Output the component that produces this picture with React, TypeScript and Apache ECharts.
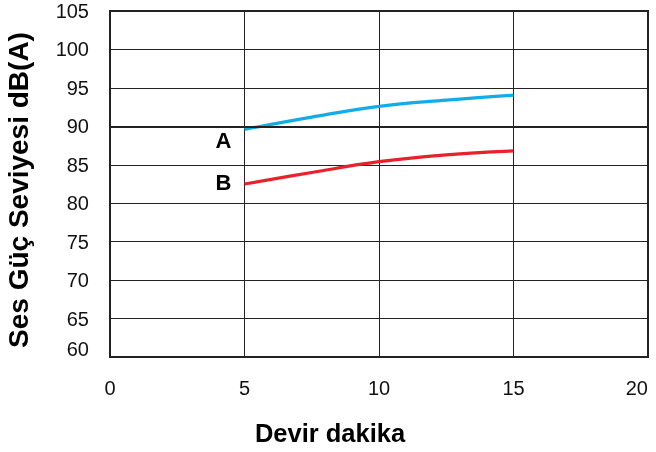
import React, { useEffect, useRef } from "react";
import * as echarts from "echarts";

const xValues = [5, 7.5, 10, 12.5, 15];
const seriesA = [89.6, 91.2, 92.6, 93.4, 94.05];
const seriesB = [82.5, 84.0, 85.4, 86.3, 86.8];
const seriesNames = ["A", "B"];
const xTitle = "Devir dakika";
const yTitle = "Ses Güç Seviyesi dB(A)";

const FONT = "'Liberation Sans', Arial, Helvetica, sans-serif";

export default function App() {
  const ref = useRef<HTMLDivElement>(null);
  useEffect(() => {
    if (!ref.current) return;
    const chart = echarts.init(ref.current, undefined, { renderer: "svg" });
    const mk = (vals: number[], name: string, color: string, offset: number[]) => ({
      type: "line",
      name,
      smooth: 0.4,
      symbol: "circle",
      symbolSize: 0,
      showSymbol: true,
      itemStyle: { color },
      lineStyle: { color, width: 3.2 },
      data: vals.map((v, i) =>
        i === 0
          ? {
              value: [xValues[i], v],
              label: {
                show: true,
                formatter: name,
                position: "left",
                offset,
                fontFamily: FONT,
                fontWeight: "bold",
                fontSize: 22,
                color: "#000",
              },
            }
          : { value: [xValues[i], v] }
      ),
    });
    chart.setOption({
      animation: false,
      grid: {
        left: 110,
        right: 8,
        top: 11,
        bottom: 95,
        show: true,
        borderColor: "#222",
        borderWidth: 2,
        backgroundColor: "#fff",
      },
      xAxis: {
        type: "value",
        min: 0,
        max: 20,
        interval: 5,
        axisLine: { show: true, lineStyle: { color: "#222", width: 2 } },
        axisTick: { show: false },
        splitLine: { show: true, lineStyle: { color: "#222", width: 1 } },
        axisLabel: {
          margin: 21,
          fontSize: 20,
          fontFamily: FONT,
          color: "#111",
          alignMaxLabel: "right",
        },
      },
      yAxis: {
        type: "value",
        min: 60,
        max: 105,
        interval: 5,
        axisLine: { show: true, lineStyle: { color: "#222", width: 2 } },
        axisTick: { show: false },
        splitLine: { show: true, lineStyle: { color: "#222", width: 1 } },
        axisLabel: {
          margin: 21,
          fontSize: 20,
          fontFamily: FONT,
          color: "#111",
          formatter: (v: number) => (v === 60 ? "{b|60}" : String(v)),
          rich: { b: { fontSize: 20, fontFamily: FONT, color: "#111", padding: [0, 0, 17, 0] } },
        },
      },
      series: [
        {
          type: "line",
          data: [],
          markLine: {
            silent: true,
            symbol: "none",
            label: { show: false },
            lineStyle: { color: "#222", width: 2, type: "solid" },
            data: [{ yAxis: 90 }],
          },
        },
        mk(seriesA, seriesNames[0], "#12ade8", [-8, 11]),
        mk(seriesB, seriesNames[1], "#e8212b", [-8, -2]),
      ],
      graphic: [
        {
          type: "text",
          x: 330,
          y: 433,
          style: {
            text: xTitle,
            fontFamily: FONT,
            fontWeight: "bold",
            fontSize: 25.5,
            fill: "#000",
            align: "center",
            verticalAlign: "middle",
          },
        },
        {
          type: "text",
          x: 18,
          y: 190,
          rotation: Math.PI / 2,
          style: {
            text: yTitle,
            fontFamily: FONT,
            fontWeight: "bold",
            fontSize: 28,
            fill: "#000",
            align: "center",
            verticalAlign: "middle",
          },
        },
      ],
    });
    return () => chart.dispose();
  }, []);
  return (
    <div
      ref={ref}
      style={{ position: "fixed", left: 0, top: 0, width: 656, height: 452 }}
    />
  );
}
